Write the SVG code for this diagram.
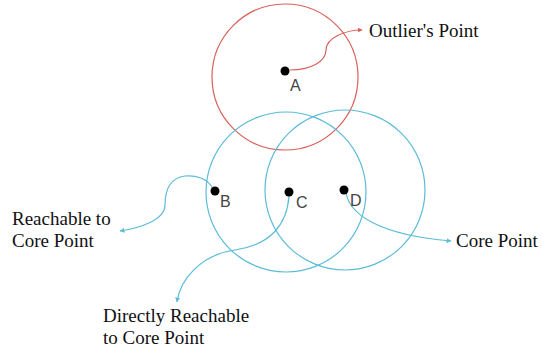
<svg xmlns="http://www.w3.org/2000/svg" width="543" height="353" viewBox="0 0 543 353">
<defs>
<style>
.red{fill:none;stroke:#d9605a;stroke-width:1.2}
.cy{fill:none;stroke:#5bbcd6;stroke-width:1.2}
.dot{fill:#000}
.pl{font-family:"Liberation Sans",Arial,sans-serif;font-size:16px;fill:#444}
.lb{font-family:"Liberation Serif","Times New Roman",serif;font-size:19px;fill:#111}
</style>
<marker id="ar" viewBox="0 0 10 10" refX="9" refY="5" markerWidth="5" markerHeight="5" orient="auto" markerUnits="userSpaceOnUse"><path d="M0,0 L10,5 L0,10 z" fill="#d9605a"/></marker>
<marker id="ac" viewBox="0 0 10 10" refX="9" refY="5" markerWidth="5" markerHeight="5" orient="auto" markerUnits="userSpaceOnUse"><path d="M0,0 L10,5 L0,10 z" fill="#5bbcd6"/></marker>
</defs>
<rect width="543" height="353" fill="#fff"/>
<g id="circles">
<circle id="circleA" class="red" cx="285" cy="77" r="73"/>
<circle id="circleC" class="cy" cx="286" cy="192" r="80"/>
<circle id="circleD" class="cy" cx="345" cy="190" r="80"/>
</g>
<g id="connectors">
<path class="red" d="M290,70 C310,70 326,62 326,50 C326,38 345,30 362,30" marker-end="url(#ar)"/>
<path class="cy" d="M213,189 C208,178 195,175 185,176 C170,178 165,190 165,205 C165,220 140,228 120,231" marker-end="url(#ac)"/>
<path class="cy" d="M289,196 C287,225 270,245 235,250 C200,255 180,280 177,302" marker-end="url(#ac)"/>
<path class="cy" d="M346,193 C350,215 380,235 451,241" marker-end="url(#ac)"/>
</g>
<g id="nodeA"><circle class="dot" cx="285" cy="71" r="4.5"/><text class="pl" x="290" y="91">A</text></g>
<g id="nodeB"><circle class="dot" cx="215" cy="191" r="4.5"/><text class="pl" x="220" y="207">B</text></g>
<g id="nodeC"><circle class="dot" cx="289" cy="192" r="4.5"/><text class="pl" x="296" y="208">C</text></g>
<g id="nodeD"><circle class="dot" cx="344" cy="190" r="4.5"/><text class="pl" x="350" y="206">D</text></g>
<g id="label-outlier"><text class="lb" x="369" y="37">Outlier's Point</text></g>
<g id="label-reachable"><text class="lb" x="12" y="225">Reachable to</text><text class="lb" x="12" y="247">Core Point</text></g>
<g id="label-core"><text class="lb" x="456" y="247">Core Point</text></g>
<g id="label-direct"><text class="lb" x="103" y="322">Directly Reachable</text><text class="lb" x="103" y="344">to Core Point</text></g>
</svg>
